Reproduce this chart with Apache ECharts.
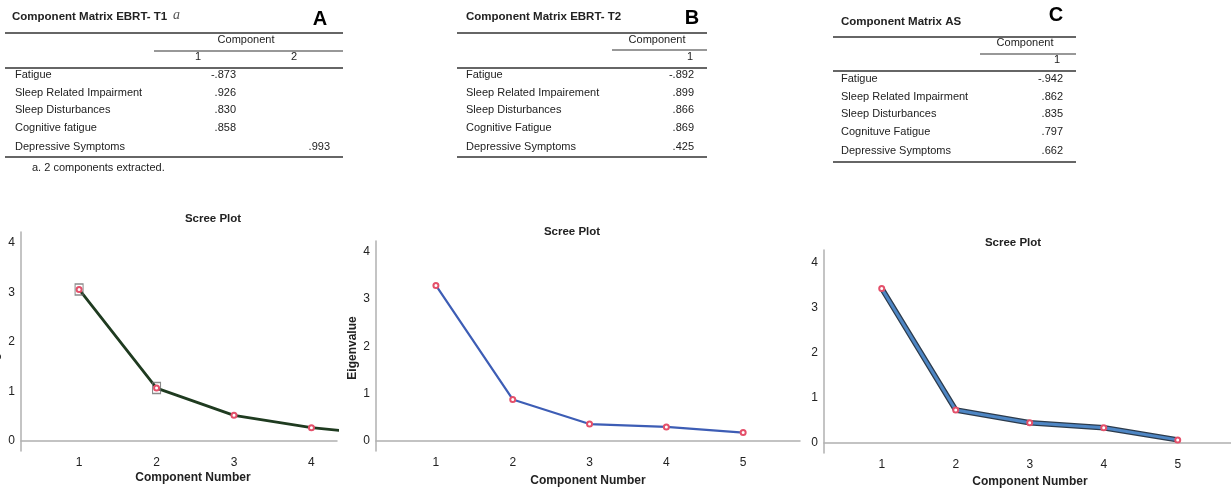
<!DOCTYPE html>
<html><head><meta charset="utf-8">
<script src="https://cdn.jsdelivr.net/npm/echarts@6/dist/echarts.min.js"></script>
<style>html,body{margin:0;padding:0;background:#fff}#c{width:1231px;height:489px}</style>
</head><body><div id="c"></div>
<script>
// ---------- DATA ----------
const variablesA = ['Fatigue','Sleep Related Impairment','Sleep Disturbances','Cognitive fatigue','Depressive Symptoms'];
const loadingsA1 = [-0.873, 0.926, 0.830, 0.858, null];
const loadingsA2 = [null, null, null, null, 0.993];
const variablesB = ['Fatigue','Sleep Related Impairement','Sleep Disturbances','Cognitive Fatigue','Depressive Symptoms'];
const loadingsB = [-0.892, 0.899, 0.866, 0.869, 0.425];
const variablesC = ['Fatigue','Sleep Related Impairment','Sleep Disturbances','Cognituve Fatigue','Depressive Symptoms'];
const loadingsC = [-0.942, 0.862, 0.835, 0.797, 0.662];

const components = [1, 2, 3, 4, 5];
const eigenA = [3.06, 1.07, 0.52, 0.27, 0.12];
const eigenB = [3.29, 0.88, 0.36, 0.30, 0.18];
const eigenC = [3.42, 0.73, 0.45, 0.34, 0.07];
const extractedA = [1, 2];
const yTicks = [0, 1, 2, 3, 4];
const xTicks = [1, 2, 3, 4, 5];

// ---------- HELPERS ----------
const FONT = '"Liberation Sans", Arial, sans-serif';
function fmt(v){ if(v===null||v===undefined) return ''; const s=Math.abs(v).toFixed(3).replace(/^0/,''); return (v<0?'-':'')+s; }
function txt(x,y,text,o){ o=o||{}; return {type:'text',x:x,y:y,silent:true,style:{text:text,fill:o.fill||'#222',font:(o.italic?'italic ':'')+(o.bold?'bold ':'')+(o.size||11)+'px '+(o.family||FONT),align:o.align||'left',verticalAlign:'middle'},rotation:o.rotation||0}; }
function ln(x1,y1,x2,y2,w){ return {type:'line',silent:true,shape:{x1:x1,y1:y1,x2:x2,y2:y2},style:{stroke:'#333',lineWidth:w||1}}; }

function table(L, names, cols){
  const g=[];
  g.push(ln(L.left,L.top,L.right,L.top,1.5));
  g.push(ln(L.compLeft,L.compLine,L.right,L.compLine,1.2));
  g.push(ln(L.left,L.head,L.right,L.head,1.5));
  g.push(ln(L.left,L.bottom,L.right,L.bottom,1.5));
  g.push(txt(L.compX,L.compY,'Component',{align:'center'}));
  cols.forEach((c,j)=>{
    g.push(txt(L.headX[j],L.headY,String(j+1),{align:L.headAlign}));
    c.forEach((v,i)=>{ g.push(txt(L.valX[j],L.rows[i],fmt(v),{align:'right'})); });
  });
  names.forEach((n,i)=>g.push(txt(L.textX,L.rows[i],n)));
  return g;
}

const graphics = [];
// Table A
graphics.push(txt(12,17,'Component Matrix EBRT- T1',{bold:true,size:11.5}));
graphics.push(txt(173,15,'a',{italic:true,size:14,family:'"Liberation Serif", serif',fill:'#555'}));
graphics.push(txt(320,19,'A',{bold:true,size:20,align:'center',fill:'#000'}));
graphics.push(...table({left:5,right:343,top:33,compLeft:154,compLine:51,head:68,bottom:157,compX:246,compY:40,
  headX:[198,294],headY:57,headAlign:'center',valX:[236,330],rows:[75,93,110,128,147],textX:15},
  variablesA,[loadingsA1,loadingsA2]));
graphics.push(txt(32,168,'a. 2 components extracted.'));
// Table B
graphics.push(txt(466,17,'Component Matrix EBRT- T2',{bold:true,size:11.5}));
graphics.push(txt(692,18,'B',{bold:true,size:20,align:'center',fill:'#000'}));
graphics.push(...table({left:457,right:707,top:33,compLeft:612,compLine:50,head:68,bottom:157,compX:657,compY:40,
  headX:[693],headY:57,headAlign:'right',valX:[694],rows:[75,93,110,128,147],textX:466},
  variablesB,[loadingsB]));
// Table C
graphics.push(txt(841,22,'Component Matrix AS',{bold:true,size:11.5}));
graphics.push(txt(1056,15,'C',{bold:true,size:20,align:'center',fill:'#000'}));
graphics.push(...table({left:833,right:1076,top:37,compLeft:980,compLine:54,head:71,bottom:162,compX:1025,compY:43,
  headX:[1060],headY:60,headAlign:'right',valX:[1063],rows:[79,97,114,132,151],textX:841},
  variablesC,[loadingsC]));

// Plot titles / axis names
graphics.push(txt(213,219,'Scree Plot',{bold:true,size:11.5,align:'center'}));
graphics.push(txt(572,232,'Scree Plot',{bold:true,size:11.5,align:'center'}));
graphics.push(txt(1013,243,'Scree Plot',{bold:true,size:11.5,align:'center'}));
graphics.push(txt(193,478,'Component Number',{bold:true,size:12,align:'center'}));
graphics.push(txt(588,481,'Component Number',{bold:true,size:12,align:'center'}));
graphics.push(txt(1030,482,'Component Number',{bold:true,size:12,align:'center'}));
graphics.push(Object.assign(txt(353,348,'Eigenvalue',{bold:true,size:12,align:'center'}),{rotation:Math.PI/2}));
graphics.push(Object.assign(txt(-5,340,'Eigenvalue',{bold:true,size:12,align:'center'}),{rotation:Math.PI/2}));

// ---------- AXES ----------
const axisLine = {show:true,lineStyle:{color:'#b0b0b0',width:1.5}};
function xAx(i,min,max){ return {type:'value',gridIndex:i,min:min,max:max,axisLine:axisLine,axisTick:{show:false},splitLine:{show:false},
  axisLabel:{customValues:xTicks,color:'#222',fontSize:12,fontFamily:FONT,margin:6}}; }
function yAx(i,min,max){ return {type:'value',gridIndex:i,min:min,max:max,axisLine:axisLine,axisTick:{show:false},splitLine:{show:false},
  axisLabel:{customValues:yTicks,color:'#222',fontSize:12,fontFamily:FONT,margin:6}}; }

function pts(arr){ return components.map((c,i)=>[c,arr[i]]); }
const marker = {symbol:'emptyCircle',symbolSize:5,itemStyle:{color:'#e4506a',borderColor:'#e4506a',borderWidth:1.2}};

const option = {
  animation:false,
  backgroundColor:'#fff',
  grid:[
    {left:21,top:232,width:316,bottom:38},
    {left:376,top:241,width:424,bottom:38},
    {left:824,top:250,width:407,bottom:36}
  ],
  xAxis:[xAx(0,0.25,4.33),xAx(1,0.22,5.74),xAx(2,0.22,5.72)],
  yAxis:[yAx(0,-0.2,4.22),yAx(1,-0.21,4.23),yAx(2,-0.22,4.27)],
  graphic:graphics,
  series:[
    Object.assign({type:'line',xAxisIndex:0,yAxisIndex:0,data:pts(eigenA),clip:true,lineStyle:{color:'#1f3b20',width:2.8}},marker),
    {type:'scatter',xAxisIndex:0,yAxisIndex:0,symbol:'rect',symbolSize:[8,11],
      data:extractedA.map(c=>[c,eigenA[components.indexOf(c)]]),
      itemStyle:{color:'rgba(0,0,0,0)',borderColor:'#6d6d6d',borderWidth:1.2},z:5},
    Object.assign({type:'line',xAxisIndex:1,yAxisIndex:1,data:pts(eigenB),clip:true,lineStyle:{color:'#3d5db5',width:2.2}},marker),
    {type:'line',xAxisIndex:2,yAxisIndex:2,data:pts(eigenC),clip:true,showSymbol:false,lineStyle:{color:'#2c3b4c',width:5.5}},
    Object.assign({type:'line',xAxisIndex:2,yAxisIndex:2,data:pts(eigenC),clip:true,lineStyle:{color:'#4e86c4',width:3}},marker)
  ]
};
const chart = echarts.init(document.getElementById('c'),null,{renderer:'canvas'});
chart.setOption(option);
</script></body></html>
